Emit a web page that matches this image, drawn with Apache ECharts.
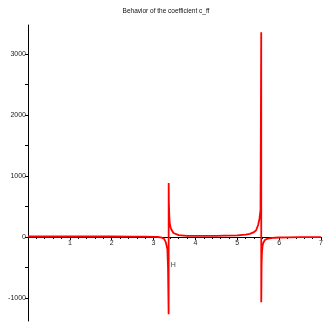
<!DOCTYPE html>
<html><head><meta charset="utf-8">
<script src="https://cdn.jsdelivr.net/npm/echarts@6/dist/echarts.min.js"></script>
<style>html,body{margin:0;padding:0;background:#fff}#c{width:332px;height:329px}</style>
</head><body><div id="c"></div>
<script>
const titleText = "Behavior of the coefficient c_ff";
const xTickLabels = [1, 2, 3, 4, 5, 6, 7];
const yTickLabels = [-1000, 0, 1000, 2000, 3000];
const yTicks = [-1000, -500, 0, 500, 1000, 1500, 2000, 2500, 3000];
const xs = [0, 0.5, 1, 1.5, 2, 2.5, 2.8, 3.0, 3.1, 3.2, 3.25, 3.29, 3.33, 3.345, 3.36,
  3.361, 3.366, 3.375, 3.385, 3.405, 3.435, 3.475, 3.5, 3.6, 3.8, 4.0, 4.5, 4.7, 5.0, 5.2, 5.3, 5.4, 5.45, 5.5, 5.53, 5.555, 5.572,
  5.573, 5.58, 5.59, 5.605, 5.625, 5.655, 5.71, 5.8, 5.9, 6.0, 6.2, 6.5, 7.0];
const ys = [8, 8, 8, 8, 8, 7, 6, 3, 0, -12, -30, -80, -200, -500, -1267,
  885, 550, 350, 230, 160, 110, 65, 45, 30, 20, 17, 18, 22, 28, 40, 50, 80, 110, 200, 300, 440, 3356,
  -1070, -450, -250, -140, -90, -55, -30, -18, -12, -8, -5, -3, -1];
const labelPoint = [3.47, -464];
const labelText = "H";
const yMin = -1377, yMax = 3475;

const curve = xs.map((x, i) => [x, ys[i]]);
const H = 329, gridTop = 25, gridBottom = 8;
const plotH = H - gridTop - gridBottom;
const zeroOffset = -plotH * (0 - yMin) / (yMax - yMin);
const chart = echarts.init(document.getElementById('c'), null, {renderer: 'canvas'});
const lab = {color: '#222', fontSize: 7, fontFamily: 'Liberation Sans, Arial, sans-serif'};
chart.setOption({
  animation: false,
  backgroundColor: '#fff',
  title: {text: titleText, left: 'center', top: 3, textStyle: {fontSize: 6.5, fontWeight: 'normal', color: '#111', fontFamily: 'Liberation Sans, Arial, sans-serif'}},
  grid: {left: 28, right: 11, top: gridTop, bottom: gridBottom},
  xAxis: {
    type: 'value', min: 0, max: 7, interval: 1, position: 'bottom', offset: zeroOffset,
    axisLine: {onZero: false, lineStyle: {color: '#000', width: 1}},
    axisTick: {show: true, inside: false, length: 3, lineStyle: {color: '#000'}},
    minorTick: {show: true, splitNumber: 5, length: 2, lineStyle: {color: '#000'}},
    axisLabel: Object.assign({margin: 3, formatter: v => (xTickLabels.indexOf(v) >= 0 ? String(v) : '')}, lab),
    splitLine: {show: false}
  },
  yAxis: {
    type: 'value', min: yMin, max: yMax,
    axisLine: {onZero: false, lineStyle: {color: '#000', width: 1}},
    axisTick: {show: true, length: 3, customValues: yTicks, lineStyle: {color: '#000'}},
    axisLabel: Object.assign({margin: 2, customValues: yTickLabels, formatter: v => String(v)}, lab),
    splitLine: {show: false}
  },
  series: [
    {type: 'line', data: curve, showSymbol: false, symbol: 'none', lineStyle: {color: '#ff0000', width: 1.8}, z: 3},
    {type: 'scatter', data: [labelPoint], symbolSize: 0, silent: true,
     label: {show: true, formatter: labelText, position: 'inside', color: '#111', fontSize: 7, fontFamily: 'Liberation Sans, Arial, sans-serif'}}
  ]
});
</script></body></html>
